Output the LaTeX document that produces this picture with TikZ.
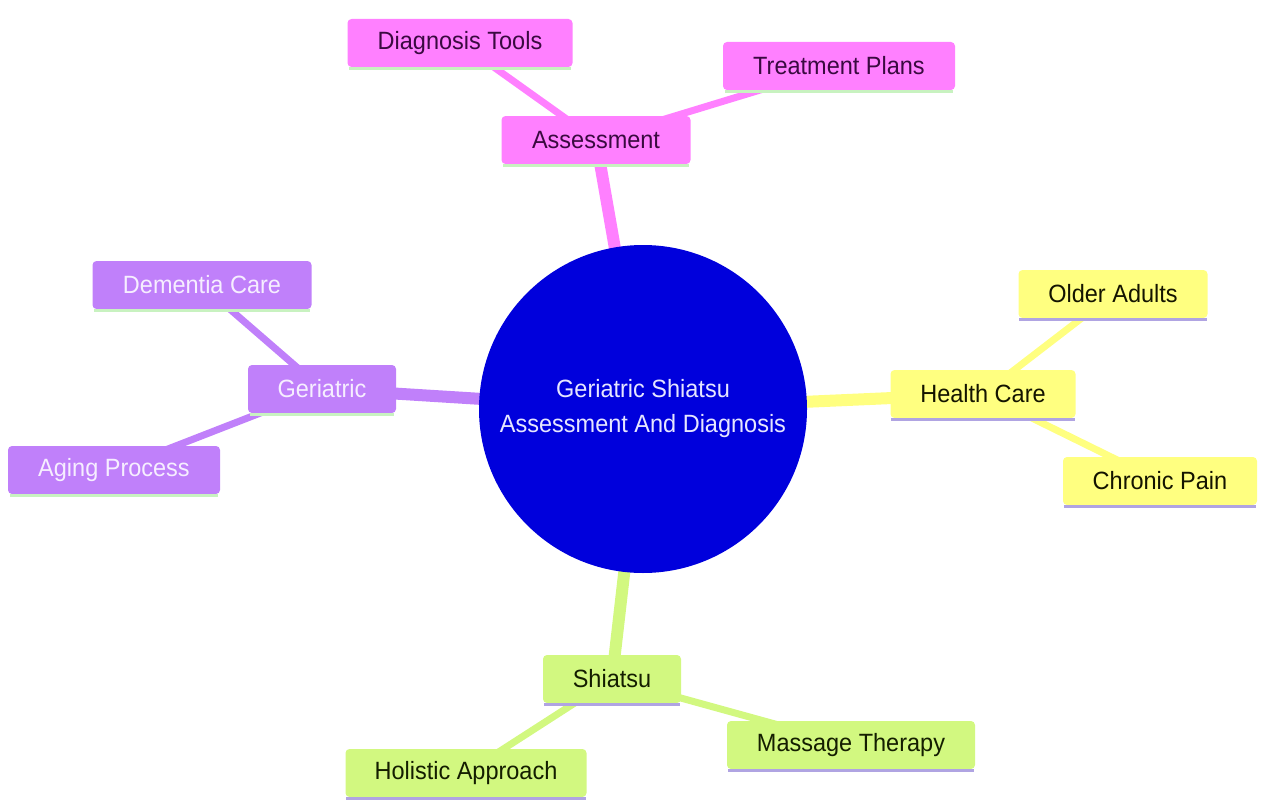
\documentclass[tikz,border=0pt]{standalone}
\usepackage{fontspec}
\setmainfont[FakeStretch=0.94]{Liberation Sans}
\usetikzlibrary{backgrounds}
\definecolor{pinkf}{HTML}{FF80FF}
\definecolor{pinkt}{HTML}{3A0A40}
\definecolor{purf}{HTML}{C080FA}
\definecolor{purt}{HTML}{F6EEFF}
\definecolor{yelf}{HTML}{FFFF80}
\definecolor{yelt}{HTML}{141400}
\definecolor{grnf}{HTML}{D2F880}
\definecolor{grnt}{HTML}{141E00}
\definecolor{bluef}{HTML}{0000DC}
\definecolor{bluet}{HTML}{E6E6FF}
\definecolor{ulgreen}{HTML}{C8F2C0}
\definecolor{ullav}{HTML}{B0A4E2}
\begin{document}
\begin{tikzpicture}[x=1pt,y=-1pt,font=\fontsize{25}{30}\selectfont,
  box/.style={rounded corners=4pt,minimum height=48pt,inner sep=0pt,align=center},
  pinkbox/.style={box,fill=pinkf,text=pinkt},
  purbox/.style={box,fill=purf,text=purt},
  yelbox/.style={box,fill=yelf,text=yelt},
  grnbox/.style={box,fill=grnf,text=grnt},
  trunk/.style={line width=12pt},
  twig/.style={line width=7pt},
  ulg/.style={line width=3pt,ulgreen},
  ull/.style={line width=3pt,ullav}]
\useasboundingbox (0,0) rectangle (1261,800);
% centre
\node[circle,fill=bluef,text=bluet,minimum size=328pt,inner sep=0pt,align=center,
  font=\fontsize{25}{35}\selectfont] (c) at (643,409) {Geriatric Shiatsu\\Assessment And Diagnosis};
% assessment branch
\node[pinkbox,minimum width=189pt] (as) at (596,140) {Assessment};
\node[pinkbox,minimum width=225pt] (dt) at (460,43) {Diagnosis Tools};
\node[pinkbox,minimum width=232pt] (tp) at (839,66) {Treatment Plans};
% geriatric branch
\node[purbox,minimum width=148pt] (ge) at (322,389) {Geriatric};
\node[purbox,minimum width=219pt] (dc) at (202,285) {Dementia Care};
\node[purbox,minimum width=212pt] (ap) at (114,470) {Aging Process};
% health care branch
\node[yelbox,minimum width=185pt] (hc) at (983,394) {Health Care};
\node[yelbox,minimum width=189pt] (oa) at (1113,294) {Older Adults};
\node[yelbox,minimum width=194pt] (cp) at (1160,481) {Chronic Pain};
% shiatsu branch
\node[grnbox,minimum width=138pt] (sh) at (612,679) {Shiatsu};
\node[grnbox,minimum width=241pt] (ha) at (466,773) {Holistic Approach};
\node[grnbox,minimum width=248pt] (mt) at (851,745) {Massage Therapy};
% underlines
\foreach \n in {as,dt,tp,ge,dc,ap}
  \draw[ulg] ([xshift=2pt,yshift=-1.5pt]\n.south west) -- ([xshift=-2pt,yshift=-1.5pt]\n.south east);
\foreach \n in {hc,oa,cp,sh,ha,mt}
  \draw[ull] ([xshift=1pt,yshift=-1.5pt]\n.south west) -- ([xshift=-1pt,yshift=-1.5pt]\n.south east);
% connectors
\begin{scope}[on background layer]
  \draw[trunk,pinkf] (c.center) -- (as.center);
  \draw[twig,pinkf] (as.center) -- (dt.center);
  \draw[twig,pinkf] (as.center) -- (tp.center);
  \draw[trunk,purf] (c.center) -- (ge.center);
  \draw[twig,purf] (ge.center) -- (dc.center);
  \draw[twig,purf] (ge.center) -- (ap.center);
  \draw[trunk,yelf] (c.center) -- (hc.center);
  \draw[twig,yelf] (hc.center) -- (oa.center);
  \draw[twig,yelf] (hc.center) -- (cp.center);
  \draw[trunk,grnf] (c.center) -- (sh.center);
  \draw[twig,grnf] (sh.center) -- (ha.center);
  \draw[twig,grnf] (sh.center) -- (mt.center);
\end{scope}
\end{tikzpicture}
\end{document}
